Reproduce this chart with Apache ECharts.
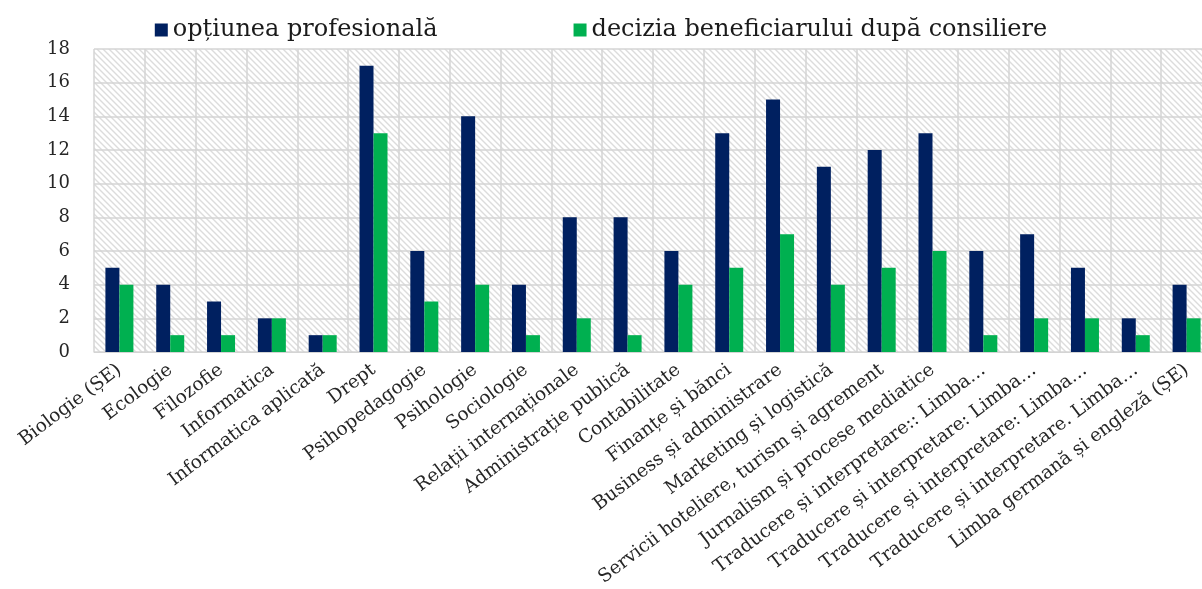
<!DOCTYPE html>
<html>
<head>
<meta charset="utf-8">
<script src="https://cdn.jsdelivr.net/npm/echarts@6/dist/echarts.min.js"></script>
<style>
html,body{margin:0;padding:0;background:#fff;}
#c{width:1202px;height:589px;}
</style>
</head>
<body>
<div id="c"></div>
<script>
const categories = [
  'Biologie (ȘE)', 'Ecologie', 'Filozofie', 'Informatica', 'Informatica aplicată',
  'Drept', 'Psihopedagogie', 'Psihologie', 'Sociologie', 'Relații internaționale',
  'Administrație publică', 'Contabilitate', 'Finanțe și bănci', 'Business și administrare',
  'Marketing și logistică', 'Servicii hoteliere, turism și agrement', 'Jurnalism și procese mediatice',
  'Traducere și interpretare:: Limba…', 'Traducere și interpretare: Limba…',
  'Traducere și interpretare: Limba…', 'Traducere și interpretare. Limba…',
  'Limba germană și engleză (ȘE)'
];
const seriesNames = ['opțiunea profesională', 'decizia beneficiarului după consiliere'];
const optiuneaProfesionala = [5, 4, 3, 2, 1, 17, 6, 14, 4, 8, 8, 6, 13, 15, 11, 12, 13, 6, 7, 5, 2, 4];
const deciziaBeneficiarului = [4, 1, 1, 2, 1, 13, 3, 4, 1, 2, 1, 4, 5, 7, 4, 5, 6, 1, 2, 2, 1, 2];
const yTicks = { min: 0, max: 18, interval: 2 };

// diagonal hatch pattern for plot background
const T = 6;
const tile = document.createElement('canvas');
tile.width = T; tile.height = T;
const tctx = tile.getContext('2d');
tctx.fillStyle = '#ffffff';
tctx.fillRect(0, 0, T, T);
tctx.strokeStyle = '#dcdcdc';
tctx.lineWidth = 1.4;
tctx.beginPath();
tctx.moveTo(-1, -1); tctx.lineTo(T + 1, T + 1);
tctx.moveTo(-1, T - 1); tctx.lineTo(1, T + 1);
tctx.moveTo(T - 1, -1); tctx.lineTo(T + 1, 1);
tctx.stroke();

const font = 'DejaVu Serif';
const chart = echarts.init(document.getElementById('c'), null, { renderer: 'canvas' });
chart.setOption({
  animation: false,
  backgroundColor: '#ffffff',
  legend: {
    data: seriesNames,
    top: 13,
    left: 'center',
    icon: 'rect',
    itemWidth: 13,
    itemHeight: 13,
    itemGap: 136,
    textStyle: { fontFamily: font, fontSize: 24, color: '#1a1a1a' }
  },
  grid: {
    left: 94, top: 49, bottom: 237, right: -10,
    outerBoundsMode: 'none',
    containLabel: false,
    show: true,
    borderWidth: 0,
    backgroundColor: { image: tile, repeat: 'repeat' }
  },
  xAxis: {
    type: 'category',
    data: categories,
    axisLine: { show: true, lineStyle: { color: '#d4d4d4', width: 1 } },
    axisTick: { show: false },
    splitLine: { show: true, interval: 0, lineStyle: { color: '#d4d4d4', width: 1.5 } },
    axisLabel: {
      interval: 0, rotate: 37, margin: 16,
      fontFamily: font, fontSize: 18.5, color: '#262626'
    }
  },
  yAxis: {
    type: 'value',
    min: yTicks.min, max: yTicks.max, interval: yTicks.interval,
    axisLine: { show: false },
    axisTick: { show: false },
    splitLine: { show: true, lineStyle: { color: '#d4d4d4', width: 1.5 } },
    axisLabel: { fontFamily: font, fontSize: 18, color: '#262626', margin: 24 }
  },
  series: [
    {
      name: seriesNames[0], type: 'bar', data: optiuneaProfesionala,
      barWidth: 14, barGap: '0%',
      itemStyle: { color: '#002060' }
    },
    {
      name: seriesNames[1], type: 'bar', data: deciziaBeneficiarului,
      barWidth: 14, barGap: '0%',
      itemStyle: { color: '#00b050' }
    }
  ]
});
</script>
</body>
</html>
